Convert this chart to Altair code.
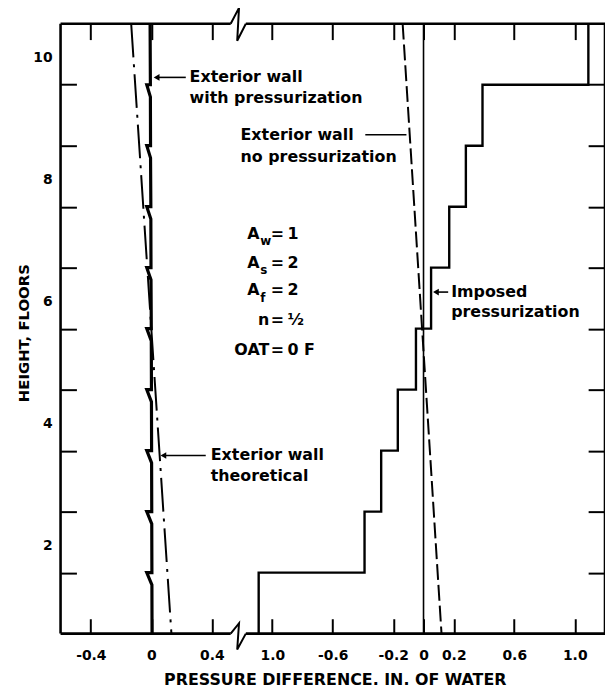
import altair as alt
import pandas as pd

# ---------------- data ----------------
SHIFT = 1.8            # display offset of the right-hand (broken) scale
XMIN, XMAX = -0.6, 3.0
BREAK_L, BREAK_R = 0.525, 0.625

floor_bounds = list(range(11))
wall_press = [0.005, 0.004, 0.003, 0.002, 0.001, 0.0, -0.002, -0.003, -0.005, -0.006, -0.008]
wall_notch = -0.03
theo_floor = [0, 10]
theo_val = [0.133, -0.133]
nopress_floor = [0, 10]
nopress_val = [0.119, -0.138]
imposed_val = [-1.09, -0.39, -0.28, -0.17, -0.05, 0.05, 0.17, 0.28, 0.39, 1.09]

left_ticks = [-0.4, 0.0, 0.4]
left_tick_labels = ["-0.4", "0", "0.4"]
right_ticks = [-1.0, -0.6, -0.2, 0.0, 0.2, 0.6, 1.0]
right_tick_labels = ["1.0", "-0.6", "-0.2", "0", "0.2", "0.6", "1.0"]
floor_ticks = [1, 2, 3, 4, 5, 6, 7, 8, 9]
floor_label_pos = [1.43, 3.43, 5.43, 7.43, 9.43]
floor_labels = ["2", "4", "6", "8", "10"]

FONT = "DejaVu Sans"
xs = alt.Scale(domain=[XMIN, XMAX], nice=False, zero=False)
ys = alt.Scale(domain=[0, 10], nice=False, zero=False)

tick_u = [round(v, 4) for v in left_ticks] + [round(v + SHIFT, 4) for v in right_ticks]
tick_lab = left_tick_labels + right_tick_labels
expr = "''"
for u, l in reversed(list(zip(tick_u, tick_lab))):
    expr = f"datum.value == {u} ? '{l}' : ({expr})"


def X(f="x"):
    return alt.X(f"{f}:Q", scale=xs, axis=None)


def Y(f="y"):
    return alt.Y(f"{f}:Q", scale=ys, axis=None)


# ---------------- frame ----------------
frame = pd.DataFrame({
    "x":  [XMIN, XMAX, XMIN, BREAK_R, XMIN, BREAK_R],
    "x2": [XMIN, XMAX, BREAK_L, XMAX, BREAK_L, XMAX],
    "y":  [0, 0, 0, 0, 10, 10],
    "y2": [10, 10, 0, 0, 10, 10],
})
frame_layer = alt.Chart(frame).mark_rule(color="black", strokeWidth=2.6).encode(
    x=X(), x2="x2:Q", y=Y(), y2="y2:Q")

brk = pd.DataFrame({
    "x": [BREAK_L, 0.58, 0.568, BREAK_R, BREAK_L, 0.58, 0.568, BREAK_R],
    "y": [0, 0.17, -0.26, 0, 10, 10.26, 9.72, 10],
    "g": ["b"] * 4 + ["t"] * 4,
    "o": [0, 1, 2, 3, 0, 1, 2, 3],
})
brk_layer = alt.Chart(brk).mark_line(color="black", strokeWidth=2).encode(
    x=X(), y=Y(), detail="g:N", order="o:Q")

# ---------------- series ----------------
pts = []
for k in range(10, -1, -1):
    pts.append((wall_press[k], k))
    if 1 <= k <= 9:
        pts.append((wall_notch, k))
        pts.append((wall_press[k], k - 0.2))
press_df = pd.DataFrame({"x": [p[0] for p in pts], "y": [p[1] for p in pts],
                         "o": list(range(len(pts)))})
press_layer = alt.Chart(press_df).mark_line(color="black", strokeWidth=3.2).encode(
    x=X(), y=Y(), order="o:Q")

theo_df = pd.DataFrame({"x": theo_val, "y": theo_floor})
theo_layer = alt.Chart(theo_df).mark_line(color="black", strokeWidth=2,
                                          strokeDash=[34, 7, 3, 7]).encode(x=X(), y=Y())

nop_df = pd.DataFrame({"x": [v + SHIFT for v in nopress_val], "y": nopress_floor})
nop_layer = alt.Chart(nop_df).mark_line(color="black", strokeWidth=2,
                                        strokeDash=[16, 5]).encode(x=X(), y=Y())

step_rows = []
for i, v in enumerate(imposed_val):
    step_rows.append((v + SHIFT, i, 2 * i))
    step_rows.append((v + SHIFT, i + 1, 2 * i + 1))
step_df = pd.DataFrame(step_rows, columns=["x", "y", "o"])
step_layer = alt.Chart(step_df).mark_line(color="black", strokeWidth=2.4).encode(
    x=alt.X("x:Q", scale=xs, axis=alt.Axis(
        orient="bottom", values=tick_u, labelExpr=expr, tickSize=15, offset=-15,
        domain=False, grid=False, labelPadding=15, labelFont=FONT, labelFontSize=14,
        labelFontWeight="bold", labelColor="black", tickColor="black", tickWidth=2,
        labelFlush=False, labelOverlap=False, title=None)),
    y=alt.Y("y:Q", scale=ys, axis=alt.Axis(
        orient="left", values=floor_ticks, labels=False, tickSize=16, offset=-16,
        domain=False, grid=False, tickColor="black", tickWidth=2, title=None)),
    order="o:Q")

zero_df = pd.DataFrame({"x": [SHIFT], "y": [0], "y2": [10]})
zero_layer = alt.Chart(zero_df).mark_rule(color="black", strokeWidth=1.6).encode(
    x=alt.X("x:Q", scale=xs, axis=alt.Axis(
        orient="top", values=tick_u, labels=False, tickSize=16, offset=-16,
        domain=False, grid=False, tickColor="black", tickWidth=2, title=None)),
    y=alt.Y("y:Q", scale=ys, axis=alt.Axis(
        orient="right", values=floor_ticks, labels=False, tickSize=17, offset=-17,
        domain=False, grid=False, tickColor="black", tickWidth=2, title=None)),
    y2="y2:Q")

# ---------------- annotations ----------------
arrows = pd.DataFrame({
    "x":  [0.03, 1.415, 1.875, 0.075],
    "x2": [0.228, 1.687, 1.963, 0.36],
    "y":  [9.12, 8.18, 5.60, 2.92],
})
arrow_lines = alt.Chart(arrows).mark_rule(color="black", strokeWidth=1.6).encode(
    x=X(), x2="x2:Q", y=Y())
heads = pd.DataFrame({"x": [0.035, 1.882, 0.08], "y": [9.12, 5.60, 2.92]})
head_layer = alt.Chart(heads).mark_point(shape="triangle-left", filled=True, color="black",
                                         size=45, opacity=1).encode(x=X(), y=Y())

ann = pd.DataFrame({
    "x": [0.253, 0.253, 0.59, 0.59, 1.983, 1.983, 0.393, 0.393],
    "y": [9.12, 8.78, 8.18, 7.82, 5.60, 5.27, 2.92, 2.58],
    "t": ["Exterior wall", "with pressurization", "Exterior wall", "no pressurization",
          "Imposed", "pressurization", "Exterior wall", "theoretical"],
})
ann_layer = alt.Chart(ann).mark_text(align="left", baseline="middle", font=FONT, fontSize=16,
                                     fontWeight="bold", color="black").encode(
    x=X(), y=Y(), text="t:N")

param_rows = [6.55, 6.08, 5.63, 5.14, 4.65]
p_left = pd.DataFrame({"x": [0.715, 0.715, 0.715, 0.78, 0.78], "y": param_rows,
                       "t": ["A", "A", "A", "n", "OAT"]})
p_sub = pd.DataFrame({"x": [0.72, 0.72, 0.72], "y": [v - 0.12 for v in param_rows[:3]],
                      "t": ["w", "s", "f"]})
p_eq = pd.DataFrame({"x": [0.833] * 5, "y": param_rows, "t": ["="] * 5})
p_right = pd.DataFrame({"x": [0.9] * 5, "y": param_rows, "t": ["1", "2", "2", "½", "0 F"]})


def txt(df, align, size=16):
    return alt.Chart(df).mark_text(align=align, baseline="middle", font=FONT, fontSize=size,
                                   fontWeight="bold", color="black").encode(
        x=X(), y=Y(), text="t:N")


ylab_df = pd.DataFrame({"y": floor_label_pos, "t": floor_labels})
ylab_layer = alt.Chart(ylab_df).mark_text(align="right", baseline="middle", font=FONT,
                                          fontSize=14, fontWeight="bold", color="black").encode(
    x=alt.value(-8), y=Y(), text="t:N")

ytitle = alt.Chart(pd.DataFrame({"t": ["HEIGHT, FLOORS"]})).mark_text(
    angle=270, align="center", baseline="middle", font=FONT, fontSize=15,
    fontWeight="bold", color="black").encode(x=alt.value(-37), y=alt.value(312), text="t:N")
xtitle = alt.Chart(pd.DataFrame({"t": ["PRESSURE DIFFERENCE. IN. OF WATER"]})).mark_text(
    align="center", baseline="middle", font=FONT, fontSize=16,
    fontWeight="bold", color="black").encode(x=alt.value(277), y=alt.value(662), text="t:N")

chart = alt.layer(
    step_layer, zero_layer, frame_layer, brk_layer, press_layer, theo_layer, nop_layer,
    arrow_lines, head_layer, ann_layer,
    txt(p_left, "right"), txt(p_sub, "left", 12), txt(p_eq, "center"), txt(p_right, "left"),
    ylab_layer, ytitle, xtitle,
).resolve_axis(x="independent", y="independent").properties(
    width=549, height=615,
    autosize=alt.AutoSizeParams(type="none"),
    padding={"left": 53, "top": 13, "right": 0, "bottom": 54},
    background="white",
).configure_view(stroke=None)

chart.save("out.html", embed_options={"renderer": "svg", "actions": False})
